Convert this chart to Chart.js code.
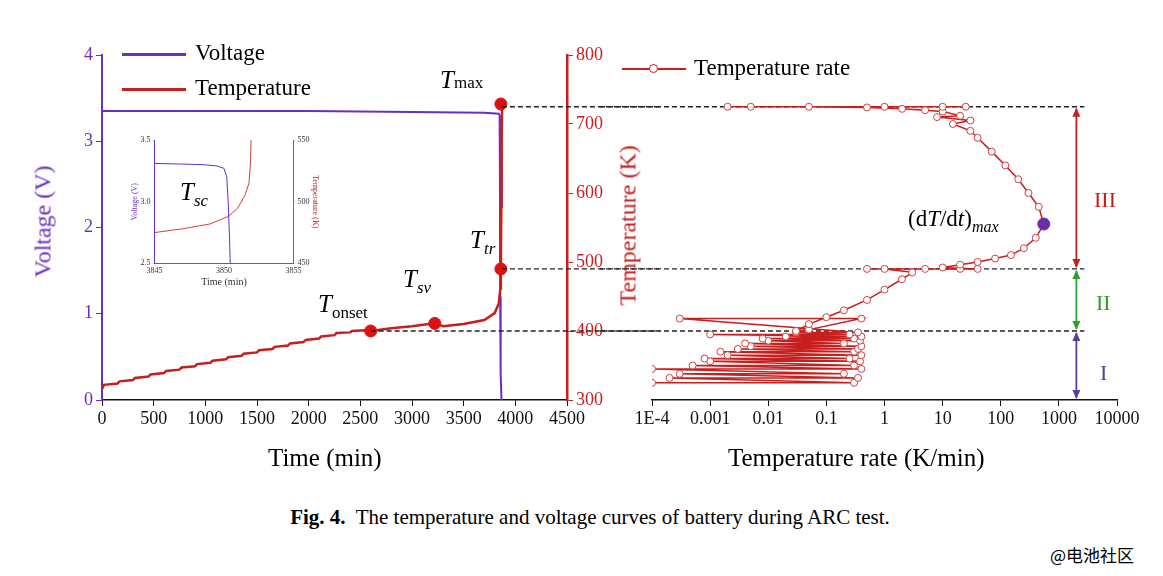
<!DOCTYPE html>
<html>
<head>
<meta charset="utf-8">
<script src="https://cdn.jsdelivr.net/npm/chart.js@4.4.0/dist/chart.umd.min.js"></script>
<style>
  body { margin:0; width:1163px; height:576px; background:#fff; position:relative; overflow:hidden; font-family:"Liberation Serif", serif; }
  canvas { position:absolute; }
  .t { position:absolute; white-space:nowrap; font-family:"Liberation Serif", serif; }
  .rot { transform:rotate(-90deg); transform-origin:center; }
</style>
</head>
<body>
<canvas id="left" style="left:0;top:0;width:660px;height:480px" width="660" height="480"></canvas>
<canvas id="right" style="left:600px;top:0;width:563px;height:480px" width="563" height="480"></canvas>
<canvas id="inset" style="left:130px;top:128px;width:190px;height:160px" width="190" height="160"></canvas>

<!-- legends -->
<div style="position:absolute;left:122px;top:53px;width:64px;height:3px;background:#6a2fc0"></div>
<div class="t" style="left:195px;top:40px;font-size:23px">Voltage</div>
<div style="position:absolute;left:122px;top:88px;width:64px;height:3px;background:#c81e1e"></div>
<div class="t" style="left:195px;top:75px;font-size:23px">Temperature</div>
<div style="position:absolute;left:622px;top:68px;width:64px;height:2px;background:#c81e1e"></div>
<div style="position:absolute;left:649px;top:64px;width:7px;height:7px;border:1px solid #c81e1e;border-radius:50%;background:#fff"></div>
<div class="t" style="left:694px;top:55px;font-size:23px">Temperature rate</div>

<!-- axis titles -->
<div class="t rot" style="left:-22px;top:208px;width:130px;text-align:center;font-size:24px;color:#6a2fc0">Voltage (V)</div>
<div class="t rot" style="left:548px;top:212px;width:160px;text-align:center;font-size:24px;color:#c81e1e">Temperature (K)</div>
<div class="t" style="left:268px;top:444px;font-size:25px">Time (min)</div>
<div class="t" style="left:728px;top:444px;font-size:25px">Temperature rate (K/min)</div>

<!-- annotations -->
<div class="t" style="left:440px;top:66px;font-size:25px"><i>T</i><span style="font-size:17px">max</span></div>
<div class="t" style="left:470px;top:226px;font-size:25px"><i>T<sub style="font-size:17px">tr</sub></i></div>
<div class="t" style="left:403px;top:265px;font-size:25px"><i>T<sub style="font-size:17px">sv</sub></i></div>
<div class="t" style="left:318px;top:290px;font-size:25px"><i>T</i><sub style="font-size:17px">onset</sub></div>
<div class="t" style="left:180px;top:178px;font-size:25px"><i>T<sub style="font-size:17px">sc</sub></i></div>
<div class="t" style="left:908px;top:206px;font-size:23px">(d<i>T</i>/d<i>t</i>)<sub style="font-size:16px"><i>max</i></sub></div>
<div class="t" style="left:1094px;top:187px;font-size:22px;color:#c81e1e">III</div>
<div class="t" style="left:1096px;top:290px;font-size:22px;color:#2ca02c">II</div>
<div class="t" style="left:1100px;top:360px;font-size:22px;color:#5b3fa0">I</div>

<div class="t" style="left:0;top:505px;width:1180px;text-align:center;font-size:21px"><b>Fig. 4.</b>&nbsp; The temperature and voltage curves of battery during ARC test.</div>
<div class="t" style="left:1050px;top:542px;font-size:17px;font-family:'Noto Sans CJK SC',sans-serif">@电池社区</div>

<script>
const PURPLE = '#6a2fc0', RED = '#c81e1e';

// ---- left panel data
const voltTimes = [0, 1000, 2000, 3000, 3700, 3840, 3848, 3851, 3853, 3858, 3866];
const voltValues = [3.35, 3.35, 3.35, 3.34, 3.33, 3.32, 3.3, 2.6, 1.2, 0.3, 0];
const tempTimes = [0, 20, 150, 170, 300, 320, 450, 470, 600, 620, 750, 770, 900, 920, 1050, 1070, 1200, 1220,
  1350, 1370, 1500, 1520, 1650, 1670, 1800, 1820, 1950, 1970, 2100, 2120, 2250, 2270, 2400, 2420, 2550, 2600,
  2800, 3000, 3200, 3250, 3300, 3500, 3700, 3800, 3840, 3855, 3860, 3864, 3868, 3872];
const tempValues = [316, 322, 324, 327, 329, 332, 334, 337, 339, 342, 344, 347, 349, 352, 354, 357, 359, 362,
  364, 367, 369, 372, 374, 377, 379, 382, 384, 387, 389, 392, 394, 397, 398, 400, 401, 400,
  404, 407, 411, 410, 407, 410, 416, 426, 440, 462, 490, 580, 680, 729];
const markerTimes = [2600, 3220, 3860, 3860];
const markerTemps = [400, 411, 490, 729];
const timeTicks = [0, 500, 1000, 1500, 2000, 2500, 3000, 3500, 4000, 4500];
const dashTemps = [725, 490, 400];

// ---- inset data
const insetVTimes = [3845, 3847, 3848.5, 3849.5, 3850, 3850.2, 3850.3, 3850.4, 3850.45];
const insetVolts = [3.31, 3.305, 3.3, 3.29, 3.27, 3.2, 3.0, 2.7, 2.5];
const insetTTimes = [3845, 3847, 3849, 3850.3, 3851, 3851.5, 3851.8, 3851.9, 3851.95];
const insetTemps = [475, 478, 482, 488, 495, 505, 515, 530, 550];

// ---- right panel data
const rateValues = [0.0001, 0.3, 0.0002, 0.35, 0.0003, 0.2, 0.0001, 0.4, 0.0005, 0.3, 0.001, 0.38, 0.0008, 0.25,
  0.002, 0.4, 0.0015, 0.3, 0.003, 0.35, 0.005, 0.4, 0.004, 0.2, 0.01, 0.38, 0.008, 0.3, 0.02, 0.4, 0.001, 0.25,
  0.03, 0.35, 0.0003, 0.4, 0.05, 0.03,
  0.05, 0.1, 0.2, 0.5, 1, 2, 3, 1, 0.5, 5, 20, 40, 10, 20, 40, 80, 150, 250, 400, 550,
  450, 300, 200, 120, 70, 40, 30, 15, 30, 8, 20, 10, 5, 2, 0.5, 0.05, 0.005, 0.002, 1, 10, 25];
const rateTemps = [325, 325, 332, 332, 338, 338, 345, 345, 350, 350, 356, 356, 360, 360, 365, 365, 370, 370,
  374, 374, 378, 378, 382, 382, 386, 386, 389, 389, 392, 392, 395, 395, 398, 398, 418, 418, 402, 400,
  410, 420, 430, 445, 460, 475, 485, 490, 490, 490, 490, 490, 492, 496, 500, 505, 510, 520, 535, 555,
  580, 600, 620, 640, 660, 680, 690, 700, 705, 710, 712, 718, 720, 722, 724, 725, 725, 725, 725, 725, 725];
const rateTicks = [1e-4, 1e-3, 1e-2, 1e-1, 1, 10, 100, 1000, 10000];
const rateLabels = ['1E-4', '0.001', '0.01', '0.1', '1', '10', '100', '1000', '10000'];
const maxRate = { x: 550, y: 555 };

const font = { family: 'Liberation Serif', size: 18 };
Chart.defaults.font.family = 'Liberation Serif';
Chart.defaults.animation = false;

function dash(ctx, x1, x2, y) {
  ctx.save();
  ctx.strokeStyle = '#222'; ctx.lineWidth = 1.3; ctx.setLineDash([5, 3]);
  ctx.beginPath(); ctx.moveTo(x1, y); ctx.lineTo(x2, y); ctx.stroke();
  ctx.restore();
}

new Chart(document.getElementById('left'), {
  type: 'line',
  data: {
    datasets: [
      { data: voltTimes.map((t, i) => ({ x: t, y: voltValues[i] })), borderColor: PURPLE, borderWidth: 2, pointRadius: 0, yAxisID: 'y', order: 2 },
      { data: tempTimes.map((t, i) => ({ x: t, y: tempValues[i] })), borderColor: RED, borderWidth: 2.5, pointRadius: 0, yAxisID: 'y1', order: 1 },
      { data: markerTimes.map((t, i) => ({ x: t, y: markerTemps[i] })), showLine: false, pointRadius: 6, pointBackgroundColor: '#e01010', pointBorderColor: '#e01010', yAxisID: 'y1', order: 0 }
    ]
  },
  options: {
    responsive: false,
    layout: { padding: { top: 55 } },
    plugins: { legend: { display: false }, tooltip: { enabled: false } },
    scales: {
      x: {
        type: 'linear', min: 0, max: 4500,
        afterBuildTicks: a => { a.ticks = timeTicks.map(v => ({ value: v })); },
        afterFit: a => { a.height = 80; },
        ticks: { color: '#111', font, padding: 2, callback: v => String(v) },
        grid: { drawOnChartArea: false, tickLength: 6, color: '#111' },
        border: { color: '#111', width: 1.5 }
      },
      y: {
        position: 'left', min: 0, max: 4,
        afterFit: a => { a.width = 102; },
        ticks: { stepSize: 1, color: PURPLE, font },
        grid: { drawOnChartArea: false, tickLength: 6, color: PURPLE },
        border: { color: PURPLE, width: 2 }
      },
      y1: {
        position: 'right', min: 300, max: 800,
        afterFit: a => { a.width = 93; },
        ticks: { stepSize: 100, color: RED, font },
        grid: { drawOnChartArea: false, tickLength: 6, color: RED },
        border: { color: RED, width: 2.5 }
      }
    }
  },
  plugins: [{
    id: 'dashes',
    afterDatasetsDraw(c) {
      const x0 = c.scales.x.getPixelForValue(3870);
      dashTemps.forEach(v => dash(c.ctx, v === 400 ? c.scales.x.getPixelForValue(2600) : x0, c.width, c.scales.y1.getPixelForValue(v)));
    }
  }]
});

new Chart(document.getElementById('right'), {
  type: 'scatter',
  data: {
    datasets: [
      { data: rateValues.map((r, i) => ({ x: r, y: rateTemps[i] })), showLine: true, borderColor: RED, borderWidth: 1.5,
        pointRadius: 3.5, pointBackgroundColor: '#fff', pointBorderColor: '#d04040', pointBorderWidth: 1, order: 1 },
      { data: [maxRate], pointRadius: 6, pointBackgroundColor: '#6a2fa8', pointBorderColor: '#6a2fa8', order: 0 }
    ]
  },
  options: {
    responsive: false,
    layout: { padding: { top: 55, left: 52, right: 46 } },
    plugins: { legend: { display: false }, tooltip: { enabled: false } },
    scales: {
      x: {
        type: 'logarithmic', min: 1e-4, max: 1e4,
        afterBuildTicks: a => { a.ticks = rateTicks.map(v => ({ value: v })); },
        afterFit: a => { a.height = 80; },
        ticks: { color: '#111', font, padding: 2, callback: (v, i) => rateLabels[i] },
        grid: { drawOnChartArea: false, tickLength: 6, color: '#111' },
        border: { color: '#111', width: 1.5 }
      },
      y: { display: false, min: 300, max: 800 }
    }
  },
  plugins: [{
    id: 'dashes',
    beforeDatasetsDraw(c) {
      const xa = c.scales.x.getPixelForValue(2000);
      dashTemps.forEach(v => dash(c.ctx, 0, xa + 8, c.scales.y.getPixelForValue(v)));
      const ctx = c.ctx, ys = c.scales.y;
      const arrows = [[725, 490, RED], [490, 400, '#2ca02c'], [400, 300, '#5b3fa0']];
      arrows.forEach(([a, b, col]) => {
        const y1 = ys.getPixelForValue(a), y2 = ys.getPixelForValue(b);
        ctx.save(); ctx.strokeStyle = col; ctx.fillStyle = col; ctx.lineWidth = 1.8;
        ctx.beginPath(); ctx.moveTo(xa, y1 + 2); ctx.lineTo(xa, y2 - 2); ctx.stroke();
        [[y1 + 1, 1], [y2 - 1, -1]].forEach(([y, d]) => {
          ctx.beginPath(); ctx.moveTo(xa, y); ctx.lineTo(xa - 4, y + 9 * d); ctx.lineTo(xa + 4, y + 9 * d); ctx.closePath(); ctx.fill();
        });
        ctx.restore();
      });
    }
  }]
});

const small = { family: 'Liberation Serif', size: 8 };
new Chart(document.getElementById('inset'), {
  type: 'line',
  data: {
    datasets: [
      { data: insetVTimes.map((t, i) => ({ x: t, y: insetVolts[i] })), borderColor: PURPLE, borderWidth: 1, pointRadius: 0, yAxisID: 'y' },
      { data: insetTTimes.map((t, i) => ({ x: t, y: insetTemps[i] })), borderColor: '#d04040', borderWidth: 1, pointRadius: 0, yAxisID: 'y1' }
    ]
  },
  options: {
    responsive: false,
    layout: { padding: { top: 12, right: 0 } },
    plugins: { legend: { display: false }, tooltip: { enabled: false } },
    scales: {
      x: {
        type: 'linear', min: 3845, max: 3855,
        ticks: { stepSize: 5, color: '#333', font: small, padding: 0, maxRotation: 0, callback: v => String(v) },
        title: { display: true, text: 'Time (min)', font: { family: 'Liberation Serif', size: 10 }, padding: 0, color: '#333' },
        grid: { drawOnChartArea: false, tickLength: 3 },
        border: { color: '#666' }
      },
      y: {
        min: 2.5, max: 3.5,
        ticks: { stepSize: 0.5, color: '#333', font: small, padding: 1, callback: v => v.toFixed(1) },
        title: { display: true, text: 'Voltage (V)', font: small, padding: 0, color: PURPLE },
        grid: { drawOnChartArea: false, tickLength: 3 },
        border: { color: PURPLE }
      },
      y1: {
        position: 'right', min: 450, max: 550,
        ticks: { stepSize: 50, color: '#333', font: small, padding: 1 },
        title: { display: true, text: 'Temperature (K)', font: small, padding: 0, color: RED },
        grid: { drawOnChartArea: false, tickLength: 3 },
        border: { color: '#d04040' }
      }
    }
  }
});
</script>
</body>
</html>
